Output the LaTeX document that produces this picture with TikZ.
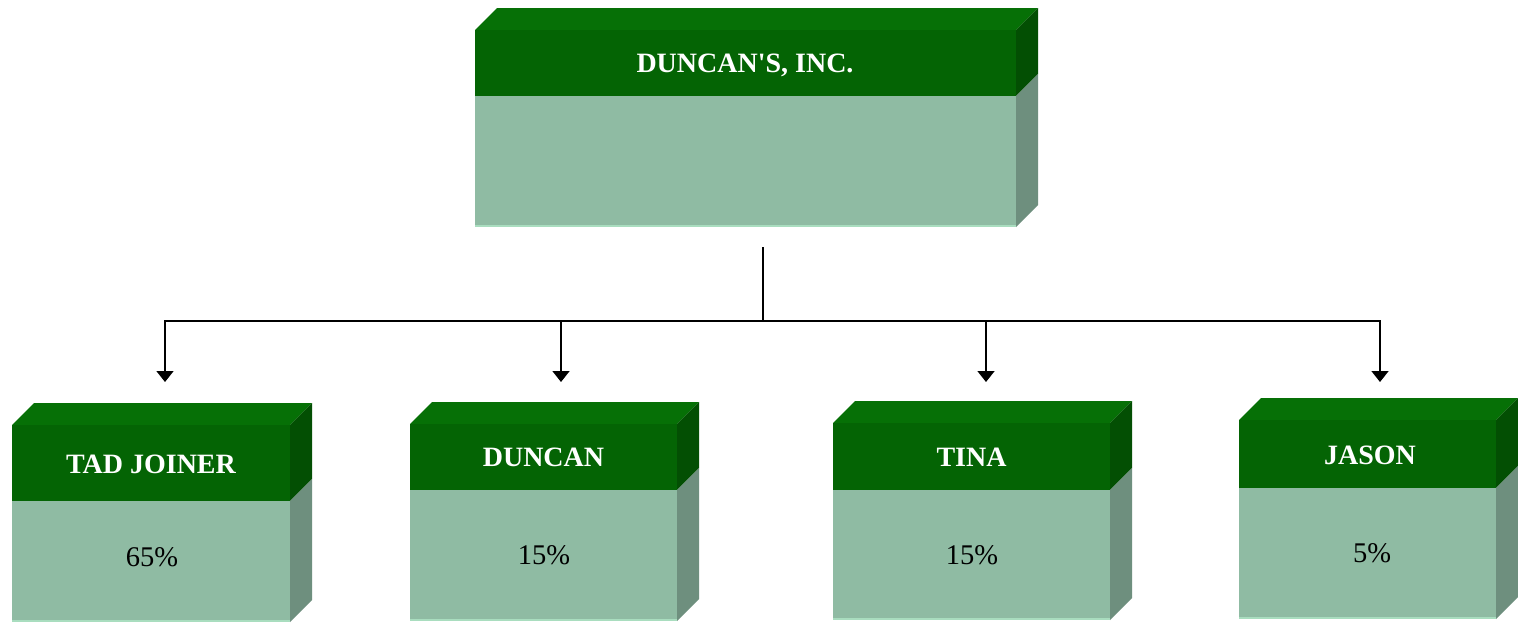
\documentclass[tikz,border=0pt]{standalone}
\usepackage{fontspec}
\setmainfont{Liberation Serif}[Ligatures=TeXOff]
\usetikzlibrary{arrows.meta}
\definecolor{hdfront}{HTML}{046404}
\definecolor{hdtop}{HTML}{067006}
\definecolor{hdside}{HTML}{034F03}
\definecolor{bdfront}{HTML}{8FBBA3}
\definecolor{bdside}{HTML}{6E8F7E}
\definecolor{bdedge}{HTML}{A9DDBF}
\tikzset{
  headtext/.style={text=white, font=\bfseries\fontsize{28}{31}\selectfont, inner sep=0pt, anchor=base},
  pcttext/.style={text=black, font=\fontsize{28.5}{31}\selectfont, inner sep=0pt, anchor=base},
  link/.style={line width=1.6pt, draw=black},
  arrowlink/.style={link, -{Triangle[width=17pt,length=11pt]}},
}
% #1 name, #2 left x, #3 right x, #4 top y, #5 header bottom y, #6 bottom y
\newcommand{\orgbox}[6]{%
  \fill[hdtop] (#2,#4) -- ({#2+22},{#4-22}) -- ({#3+22},{#4-22}) -- (#3,#4) -- cycle;
  \fill[hdside] (#3,#4) -- ({#3+22},{#4-22}) -- ({#3+22},{#5-22}) -- (#3,#5) -- cycle;
  \fill[bdside] (#3,#5) -- ({#3+22},{#5-22}) -- ({#3+22},{#6-22}) -- (#3,#6) -- cycle;
  \fill[hdfront] (#2,#4) rectangle (#3,#5);
  \fill[bdfront] (#2,#5) rectangle (#3,#6);
  \fill[bdedge] (#2,{#6-2}) rectangle (#3,#6);
  \coordinate (#1-nw) at (#2,#4);
  \coordinate (#1-se) at (#3,#6);
}
\begin{document}
\begin{tikzpicture}[x=1pt,y=-1pt]
\fill[white] (0,0) rectangle (1518,624);
\useasboundingbox (0,0) rectangle (1518,624);

\orgbox{top}{475}{1016}{30}{96}{227}
\orgbox{tad}{12}{290}{425}{501}{622}
\orgbox{dun}{410}{677}{424}{490}{621}
\orgbox{tin}{833}{1110}{423}{490}{620}
\orgbox{jas}{1239}{1496}{420}{488}{619}

\node[headtext] (toph) at (745,72) {DUNCAN'S, INC.};
\node[headtext] (tadh) at (151,473) {TAD JOINER};
\node[headtext] (dunh) at (543.5,466) {DUNCAN};
\node[headtext] (tinh) at (971.5,466) {TINA};
\node[headtext] (jash) at (1370,464) {JASON};

\node[pcttext] (tadp) at (152,566) {65\%};
\node[pcttext] (dunp) at (544,564) {15\%};
\node[pcttext] (tinp) at (972,564) {15\%};
\node[pcttext] (jasp) at (1372,562) {5\%};

\coordinate (stem) at (763,247);
\coordinate (bus) at (763,321);
\coordinate (tad-in) at (165,382);
\coordinate (dun-in) at (561,382);
\coordinate (tin-in) at (986,382);
\coordinate (jas-in) at (1380,382);

\draw[link] (stem) -- (bus);
\draw[arrowlink] (bus) -| (tad-in);
\draw[arrowlink] (bus) -| (dun-in);
\draw[arrowlink] (bus) -| (tin-in);
\draw[arrowlink] (bus) -| (jas-in);
\end{tikzpicture}
\end{document}
